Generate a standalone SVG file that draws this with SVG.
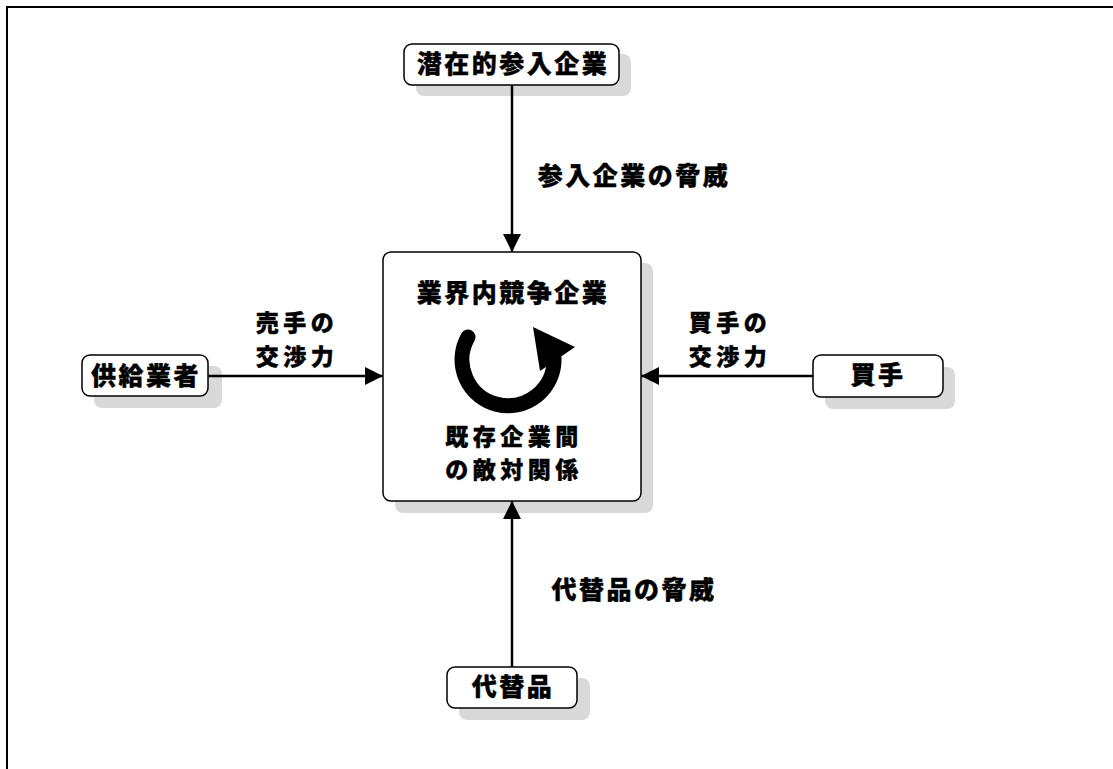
<svg xmlns="http://www.w3.org/2000/svg" width="1113" height="769" viewBox="0 0 1113 769">
<defs>
<style>
.box{fill:#ffffff;stroke:#000000;stroke-width:1.5}
.sh{fill:#d9d9d9;stroke:none}
.t{font-family:"Noto Sans CJK JP","Noto Sans CJK SC",sans-serif;font-weight:900;font-size:25px;letter-spacing:2.5px;fill:#000000;text-anchor:middle;stroke:#000000;stroke-width:0.4}
.t2{font-size:23px;letter-spacing:4.5px}
.ln{stroke:#000000;stroke-width:2.5;fill:none}
</style>
<marker id="ah2" viewBox="0 0 16 16" refX="16" refY="8" markerWidth="18" markerHeight="18" markerUnits="userSpaceOnUse" orient="auto">
<path d="M0,0 L16,8 L0,16 z" fill="#000000"/>
</marker>
</defs>
<rect x="0" y="0" width="1113" height="769" fill="#ffffff"/>
<rect x="7" y="7" width="1130" height="790" fill="none" stroke="#000000" stroke-width="2"/>

<g id="node-center">
<rect class="sh" x="395" y="263" width="258" height="250" rx="8"/>
<rect class="box" x="383" y="252" width="258" height="249" rx="8"/>
<text class="t" x="513" y="302">業界内競争企業</text>
<path d="M468,337 A46,46 0 1 0 554,358" fill="none" stroke="#000000" stroke-width="15" stroke-linecap="round"/>
<polygon points="533,327 575,347 540,371" fill="#000000"/>
<text class="t t2"><tspan x="514" y="444.5">既存企業間</tspan><tspan x="514" dy="33.5">の敵対関係</tspan></text>
</g>

<g id="node-top">
<rect class="sh" x="416" y="54" width="215" height="42" rx="8"/>
<rect class="box" x="404" y="44" width="215" height="41" rx="8"/>
<text class="t" x="513" y="73">潜在的参入企業</text>
</g>

<g id="node-left">
<rect class="sh" x="94" y="366" width="128" height="42" rx="8"/>
<rect class="box" x="82" y="355" width="126" height="41" rx="8"/>
<text class="t" x="146" y="385">供給業者</text>
</g>

<g id="node-right">
<rect class="sh" x="825" y="367" width="130" height="42" rx="8"/>
<rect class="box" x="813" y="355" width="130" height="42" rx="8"/>
<text class="t" x="878" y="384">買手</text>
</g>

<g id="node-bottom">
<rect class="sh" x="459" y="678" width="131" height="42" rx="8"/>
<rect class="box" x="447" y="667" width="130" height="41" rx="8"/>
<text class="t" x="513" y="696">代替品</text>
</g>

<g id="connectors">
<line class="ln" x1="512" y1="85" x2="512" y2="252" marker-end="url(#ah2)"/>
<line class="ln" x1="512" y1="667" x2="512" y2="501" marker-end="url(#ah2)"/>
<line class="ln" x1="208" y1="376" x2="383" y2="376" marker-end="url(#ah2)"/>
<line class="ln" x1="813" y1="376" x2="641" y2="376" marker-end="url(#ah2)"/>
<text class="t" x="634" y="185">参入企業の脅威</text>
<text class="t t2"><tspan x="297" y="331">売手の</tspan><tspan x="297" dy="33.5">交渉力</tspan></text>
<text class="t t2"><tspan x="730" y="331">買手の</tspan><tspan x="730" dy="33.5">交渉力</tspan></text>
<text class="t" x="634" y="599">代替品の脅威</text>
</g>
</svg>
